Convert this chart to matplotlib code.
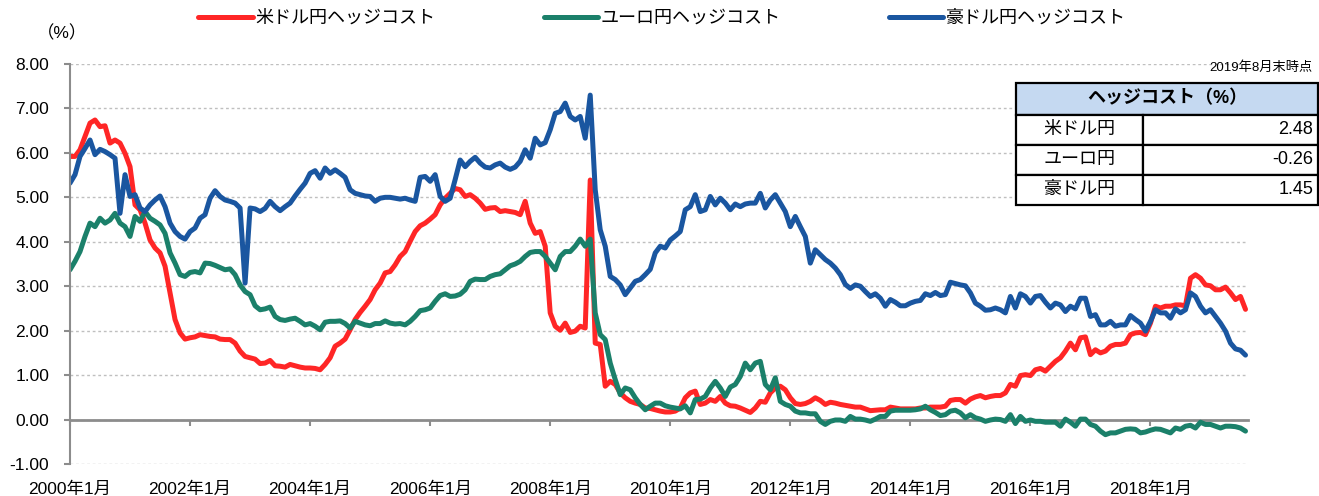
import matplotlib.pyplot as plt
from matplotlib.patches import Rectangle
import numpy as np

plt.rcParams['font.family'] = ['Liberation Sans', 'Noto Sans CJK JP']

# monthly hedge cost (%), 2000/01 - 2019/08
us_jpy = [
    5.92, 5.92, 6.07, 6.37, 6.67, 6.74, 6.59, 6.61, 6.22, 6.29,
    6.22, 5.99, 5.69, 4.83, 4.72, 4.42, 4.04, 3.86, 3.75, 3.45,
    2.85, 2.25, 1.95, 1.81, 1.84, 1.86, 1.91, 1.89, 1.87, 1.86,
    1.81, 1.80, 1.80, 1.72, 1.54, 1.42, 1.39, 1.36, 1.26, 1.27,
    1.33, 1.21, 1.20, 1.18, 1.24, 1.21, 1.18, 1.16, 1.16, 1.15,
    1.12, 1.24, 1.39, 1.65, 1.72, 1.81, 2.02, 2.25, 2.41, 2.55,
    2.70, 2.92, 3.07, 3.30, 3.33, 3.48, 3.67, 3.78, 4.01, 4.23,
    4.36, 4.42, 4.51, 4.61, 4.83, 4.98, 5.09, 5.20, 5.17, 5.02,
    5.06, 4.98, 4.87, 4.73, 4.76, 4.77, 4.68, 4.70, 4.68, 4.66,
    4.61, 4.91, 4.42, 4.19, 4.23, 3.90, 2.40, 2.10, 2.01, 2.17,
    1.96, 1.99, 2.10, 2.06, 5.39, 1.72, 1.69, 0.75, 0.86, 0.79,
    0.60, 0.49, 0.41, 0.37, 0.34, 0.26, 0.25, 0.22, 0.19, 0.17,
    0.17, 0.19, 0.26, 0.49, 0.60, 0.64, 0.34, 0.37, 0.45, 0.41,
    0.52, 0.37, 0.31, 0.30, 0.26, 0.21, 0.16, 0.26, 0.41, 0.39,
    0.60, 0.71, 0.75, 0.67, 0.49, 0.36, 0.34, 0.36, 0.41, 0.49,
    0.43, 0.34, 0.39, 0.37, 0.34, 0.32, 0.30, 0.28, 0.28, 0.24,
    0.20, 0.21, 0.22, 0.22, 0.28, 0.26, 0.24, 0.24, 0.24, 0.24,
    0.26, 0.26, 0.28, 0.28, 0.28, 0.30, 0.43, 0.45, 0.45, 0.37,
    0.46, 0.51, 0.54, 0.49, 0.52, 0.54, 0.54, 0.60, 0.79, 0.75,
    0.99, 1.01, 0.99, 1.12, 1.15, 1.09, 1.20, 1.31, 1.39, 1.54,
    1.72, 1.57, 1.84, 1.86, 1.46, 1.57, 1.50, 1.54, 1.65, 1.69,
    1.69, 1.72, 1.91, 1.95, 1.96, 1.91, 2.17, 2.55, 2.51, 2.55,
    2.55, 2.58, 2.58, 2.56, 3.18, 3.26, 3.18, 3.03, 3.01, 2.92,
    2.92, 2.98, 2.85, 2.70, 2.77, 2.48,
]
eur_jpy = [
    3.37, 3.56, 3.78, 4.12, 4.42, 4.34, 4.53, 4.42, 4.49, 4.64,
    4.42, 4.34, 4.12, 4.57, 4.46, 4.68, 4.53, 4.46, 4.38, 4.19,
    3.75, 3.52, 3.26, 3.22, 3.31, 3.33, 3.30, 3.52, 3.51, 3.47,
    3.42, 3.37, 3.39, 3.26, 3.03, 2.88, 2.81, 2.56, 2.47, 2.49,
    2.53, 2.32, 2.25, 2.23, 2.26, 2.28, 2.21, 2.13, 2.16, 2.10,
    2.02, 2.19, 2.21, 2.21, 2.22, 2.16, 2.06, 2.21, 2.17, 2.13,
    2.11, 2.16, 2.16, 2.22, 2.17, 2.15, 2.16, 2.13, 2.21, 2.32,
    2.45, 2.47, 2.51, 2.66, 2.79, 2.83, 2.77, 2.78, 2.82, 2.92,
    3.11, 3.16, 3.15, 3.15, 3.22, 3.26, 3.28, 3.37, 3.46, 3.50,
    3.56, 3.67, 3.76, 3.78, 3.78, 3.67, 3.52, 3.37, 3.67, 3.78,
    3.78, 3.90, 4.06, 3.90, 4.06, 2.40, 1.91, 1.80, 1.27, 0.90,
    0.56, 0.71, 0.67, 0.49, 0.34, 0.22, 0.30, 0.37, 0.37, 0.31,
    0.28, 0.26, 0.24, 0.31, 0.15, 0.45, 0.46, 0.52, 0.71, 0.86,
    0.71, 0.52, 0.73, 0.79, 0.97, 1.27, 1.12, 1.27, 1.31, 0.79,
    0.67, 0.94, 0.41, 0.34, 0.30, 0.19, 0.15, 0.15, 0.13, 0.13,
    -0.04, -0.11, -0.04, -0.01, -0.01, -0.04, 0.07, 0.01, 0.01, -0.01,
    -0.04, 0.01, 0.07, 0.07, 0.19, 0.21, 0.21, 0.21, 0.21, 0.22,
    0.24, 0.30, 0.22, 0.16, 0.09, 0.11, 0.19, 0.21, 0.15, 0.04,
    0.11, 0.04, 0.01, -0.04, -0.01, 0.01, 0.00, -0.04, 0.11, -0.09,
    0.07, -0.04, -0.01, -0.04, -0.04, -0.06, -0.06, -0.06, -0.15, 0.01,
    -0.06, -0.15, 0.01, 0.01, -0.11, -0.15, -0.26, -0.34, -0.30, -0.30,
    -0.26, -0.22, -0.21, -0.22, -0.30, -0.28, -0.24, -0.21, -0.22, -0.26,
    -0.30, -0.19, -0.22, -0.15, -0.13, -0.19, -0.06, -0.11, -0.11, -0.15,
    -0.19, -0.15, -0.15, -0.16, -0.19, -0.26,
]
aud_jpy = [
    5.32, 5.51, 5.92, 6.10, 6.29, 5.96, 6.08, 6.03, 5.96, 5.88,
    4.64, 5.51, 5.02, 5.06, 4.76, 4.68, 4.83, 4.94, 5.03, 4.79,
    4.42, 4.23, 4.12, 4.06, 4.23, 4.31, 4.53, 4.61, 4.98, 5.15,
    5.02, 4.94, 4.91, 4.87, 4.76, 3.07, 4.76, 4.74, 4.68, 4.75,
    4.91, 4.79, 4.70, 4.79, 4.87, 5.03, 5.18, 5.32, 5.54, 5.60,
    5.43, 5.66, 5.54, 5.62, 5.54, 5.45, 5.17, 5.09, 5.06, 5.03,
    5.02, 4.91, 4.98, 5.00, 5.00, 4.98, 4.96, 4.98, 4.94, 4.91,
    5.45, 5.47, 5.36, 5.51, 5.02, 4.91, 4.98, 5.40, 5.84, 5.69,
    5.81, 5.90, 5.77, 5.68, 5.66, 5.73, 5.77, 5.68, 5.63, 5.68,
    5.81, 6.07, 5.88, 6.33, 6.18, 6.23, 6.52, 6.89, 6.93, 7.12,
    6.82, 6.74, 6.82, 6.33, 7.30, 5.17, 4.27, 3.90, 3.22, 3.15,
    3.03, 2.81, 2.96, 3.11, 3.15, 3.26, 3.38, 3.75, 3.90, 3.86,
    4.04, 4.13, 4.23, 4.72, 4.79, 5.06, 4.68, 4.72, 5.02, 4.83,
    4.98, 4.87, 4.72, 4.85, 4.79, 4.85, 4.87, 4.87, 5.09, 4.76,
    4.94, 5.06, 4.87, 4.68, 4.34, 4.57, 4.34, 4.12, 3.52, 3.82,
    3.71, 3.60, 3.52, 3.41, 3.26, 3.04, 2.95, 3.03, 3.00, 2.88,
    2.77, 2.83, 2.73, 2.55, 2.70, 2.64, 2.56, 2.56, 2.62, 2.66,
    2.68, 2.83, 2.79, 2.86, 2.79, 2.81, 3.09, 3.06, 3.03, 3.01,
    2.85, 2.62, 2.55, 2.46, 2.47, 2.51, 2.47, 2.40, 2.77, 2.51,
    2.83, 2.77, 2.62, 2.77, 2.79, 2.64, 2.51, 2.62, 2.58, 2.43,
    2.55, 2.49, 2.73, 2.73, 2.32, 2.36, 2.13, 2.13, 2.21, 2.10,
    2.13, 2.13, 2.34, 2.25, 2.17, 1.99, 2.21, 2.47, 2.40, 2.40,
    2.28, 2.49, 2.40, 2.47, 2.85, 2.77, 2.55, 2.40, 2.47, 2.32,
    2.17, 1.99, 1.72, 1.59, 1.56, 1.45,
]

series_names = ['米ドル円ヘッジコスト', 'ユーロ円ヘッジコスト', '豪ドル円ヘッジコスト']
colors = ['#FF2626', '#1B806A', '#1A56A0']
tick_labels = ['2000年1月', '2002年1月', '2004年1月', '2006年1月', '2008年1月',
               '2010年1月', '2012年1月', '2014年1月', '2016年1月', '2018年1月']
table_title = 'ヘッジコスト（%）'
table_labels = ['米ドル円', 'ユーロ円', '豪ドル円']
table_values = [2.48, -0.26, 1.45]
as_of = '2019年8月末時点'

W, H = 1319, 496
fig = plt.figure(figsize=(W / 100, H / 100), dpi=100)
ax = fig.add_axes([70 / W, 32 / H, 1178 / W, 400 / H])

months = np.arange(len(us_jpy))
for vals, name, c in zip([us_jpy, eur_jpy, aud_jpy], series_names, colors):
    ax.plot(months, vals, color=c, lw=3.6, label=name,
            solid_joinstyle='round', solid_capstyle='round')

ax.set_xlim(0, 235.5)
ax.set_ylim(-1, 8)
yt = np.arange(-1, 9)
ax.set_yticks(yt)
ax.set_yticklabels([f'{v:.2f}' for v in yt])
ax.grid(axis='y', color='#BFBFBF', linestyle=(0, (2, 2)), lw=1)
ax.set_axisbelow(True)
for s in ['top', 'right']:
    ax.spines[s].set_visible(False)
ax.spines['left'].set_color('#8C8C8C')
ax.spines['left'].set_linewidth(1.5)
ax.spines['bottom'].set_position(('data', 0))
ax.spines['bottom'].set_color('#8C8C8C')
ax.spines['bottom'].set_linewidth(2)
ax.spines['bottom'].set_zorder(1.5)

tick_pos = np.arange(len(tick_labels)) * 24
ax.set_xticks(tick_pos)
ax.set_xticklabels([])
ax.tick_params(axis='x', direction='out', length=4, width=1.5, color='#8C8C8C')
ax.tick_params(axis='y', direction='out', length=4, width=1.5, color='#8C8C8C',
               labelsize=12.5, pad=11)

sec = ax.secondary_xaxis('bottom')
sec.set_xticks(tick_pos, tick_labels)
sec.tick_params(length=0, labelsize=12.5, pad=12.5)
sec.spines['bottom'].set_visible(False)

fig.legend(loc='center', bbox_to_anchor=(0.502, 0.963), ncol=3, frameon=False,
           fontsize=13, handlelength=3.0, handletextpad=0.15, columnspacing=6.0)
fig.text(62 / W, 1 - 33 / H, '（%）', ha='center', va='center', fontsize=12.5)
fig.text(1313 / W, 1 - 68 / H, as_of, ha='right', va='center', fontsize=9.5)

# summary table
tw, th = 302, 122
tax = fig.add_axes([1016 / W, 1 - 205 / H, tw / W, th / H])
tax.set_xlim(0, tw)
tax.set_ylim(th, 0)
tax.axis('off')
row_h = [32, 29.5, 30, 30.5]
col_split = 127
tax.add_patch(Rectangle((0, 0), tw, row_h[0], facecolor='#C5D9F1',
                        edgecolor='black', lw=1.6, clip_on=False))
tax.text(tw / 2, row_h[0] / 2, table_title, ha='center', va='center',
         fontsize=13, fontweight='bold')
y = row_h[0]
for lab, val, rh in zip(table_labels, table_values, row_h[1:]):
    tax.add_patch(Rectangle((0, y), col_split, rh, facecolor='white',
                            edgecolor='black', lw=1.6, clip_on=False))
    tax.add_patch(Rectangle((col_split, y), tw - col_split, rh, facecolor='white',
                            edgecolor='black', lw=1.6, clip_on=False))
    tax.text(col_split / 2, y + rh / 2, lab, ha='center', va='center', fontsize=13)
    tax.text(tw - 5, y + rh / 2, f'{val:.2f}', ha='right', va='center', fontsize=13)
    y += rh

fig.savefig('out.png', dpi=100)
